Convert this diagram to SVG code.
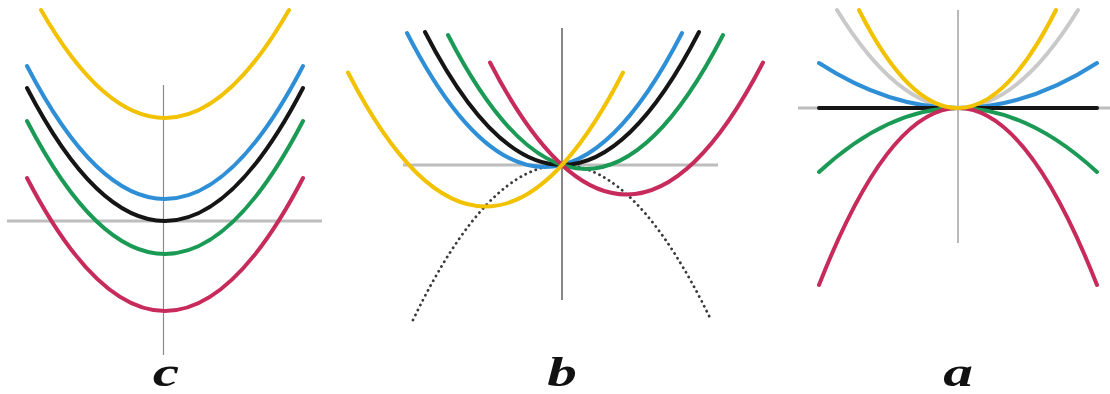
<svg xmlns="http://www.w3.org/2000/svg" width="1110" height="394" viewBox="0 0 1110 394">
<style>
.crv{fill:none;stroke-width:4;stroke-linecap:round}
.y{stroke:#F2C200}.bl{stroke:#2E8FD6}.k{stroke:#151515}.g{stroke:#1B9A55}.r{stroke:#C72B5B}.lg{stroke:#C9C9C9}
.hax{stroke:#BDBDBD;stroke-width:3;fill:none}
.vax{stroke:#8A8A8A;stroke-width:1.2;fill:none}
.dot{fill:none;stroke:#3a3a3a;stroke-width:2.8;stroke-linecap:round;stroke-dasharray:0.1 5.4}
.lbl{font-family:"Liberation Serif","Times New Roman",serif;font-weight:bold;font-style:italic;font-size:43px;fill:#111;text-anchor:middle}
</style>
<rect width="1110" height="394" fill="#fff"/>
<g id="panel-c">
<line class="vax" x1="163.5" y1="85" x2="163.5" y2="355"/>
<line class="hax" x1="7" y1="221" x2="322" y2="221"/>
<path class="crv y" d="M41,10 Q165,226 289,10"/>
<path class="crv bl" d="M27,66 Q165,332 303,66"/>
<path class="crv k" d="M27,88 Q165,354 303,88"/>
<path class="crv g" d="M27,121 Q165,387 303,121"/>
<path class="crv r" d="M27,178 Q165,444 303,178"/>
<text class="lbl" transform="translate(166,386) scale(1.38,1)">c</text>
</g>
<g id="panel-b">
<line class="hax" x1="403" y1="165" x2="718" y2="165"/>
<line class="vax" x1="562" y1="28" x2="562" y2="300" style="stroke:#555;stroke-width:1.4"/>
<path class="dot" d="M413,320 Q562,10 711,320"/>
<path class="crv bl" d="M407,33 Q544.5,301 682,33"/>
<path class="crv k" d="M425,32 Q562,298 699,32"/>
<path class="crv g" d="M448,35 Q585.5,303 723,35"/>
<path class="crv r" d="M490,62.5 Q626.5,326.5 763,62.5"/>
<path class="crv y" d="M348,72.5 Q485.5,340.5 623,72.5"/>
<text class="lbl" transform="translate(562,386) scale(1.38,1)">b</text>
</g>
<g id="panel-a">
<line class="vax" x1="958" y1="10" x2="958" y2="243"/>
<line class="hax" x1="798" y1="108" x2="1110" y2="108"/>
<path class="crv lg" d="M837,10 Q957.5,206 1078,10"/>
<path class="crv bl" d="M819,63 Q958,153 1097,63"/>
<path class="crv k" d="M819,108 L1097,108"/>
<path class="crv g" d="M819,172 Q958,44 1097,172"/>
<path class="crv r" d="M819,285 Q958,-69 1097,285"/>
<path class="crv y" d="M859,10 Q957.5,206 1056,10"/>
<text class="lbl" transform="translate(958,386) scale(1.38,1)">a</text>
</g>
</svg>
